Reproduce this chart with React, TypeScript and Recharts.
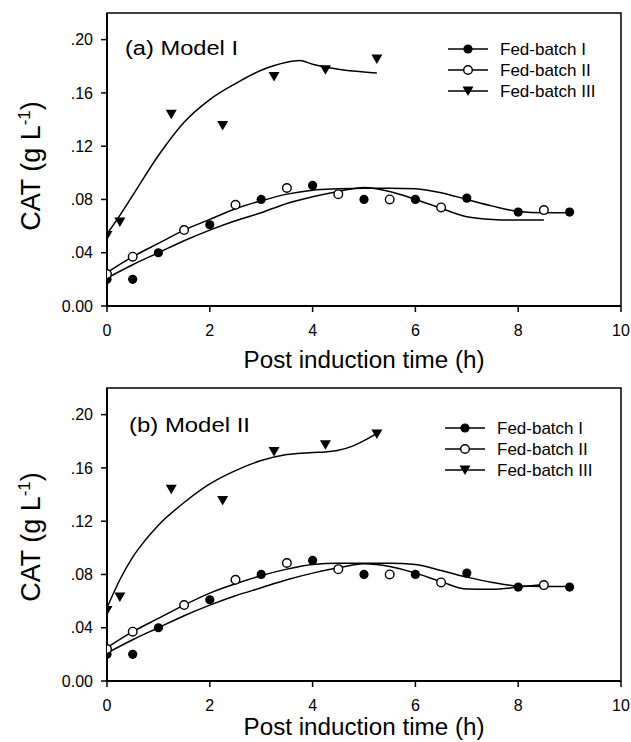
import React from "react";
import { ComposedChart, Line, Scatter, XAxis, YAxis, Legend, Customized, ReferenceArea } from "recharts";

const FONT = '"Liberation Sans", Arial, Helvetica, sans-serif';

// ---- observed data (same in both panels) ----
const obsTimeI = [0, 0.5, 1, 2, 3, 4, 5, 6, 7, 8, 9];
const obsCatI = [0.02, 0.02, 0.04, 0.061, 0.08, 0.0905, 0.08, 0.08, 0.081, 0.0705, 0.0705];
const obsTimeII = [0, 0.5, 1.5, 2.5, 3.5, 4.5, 5.5, 6.5, 8.5];
const obsCatII = [0.024, 0.037, 0.057, 0.076, 0.0886, 0.084, 0.08, 0.074, 0.072];
const obsTimeIII = [0, 0.25, 1.25, 2.25, 3.25, 4.25, 5.25];
const obsCatIII = [0.053, 0.063, 0.144, 0.1355, 0.1724, 0.1774, 0.1855];

// ---- model curves ----
const fitTimeI = [0, 0.5, 1, 1.5, 2, 2.5, 3, 3.5, 4, 4.5, 5, 5.5, 6, 6.5, 7, 7.5, 8, 8.5, 9];
const fitTimeII = [0, 0.5, 1, 1.5, 2, 2.5, 3, 3.5, 4, 4.5, 5, 5.5, 6, 6.5, 7, 7.5, 8, 8.5];
const m1TimeIII = [0, 0.25, 0.5, 1, 1.5, 2, 2.5, 3, 3.5, 3.75, 4, 4.5, 5, 5.25];
const m2TimeIII = [0, 0.25, 0.5, 0.75, 1, 1.5, 2, 2.5, 3, 3.5, 4, 4.25, 4.5, 4.75, 5, 5.25];

const m1FitI = [0.025, 0.037, 0.047, 0.057, 0.065, 0.073, 0.079, 0.084, 0.087, 0.088, 0.0885, 0.0885, 0.088, 0.085, 0.08, 0.075, 0.071, 0.07, 0.07];
const m1FitII = [0.021, 0.031, 0.04, 0.049, 0.057, 0.064, 0.07, 0.077, 0.082, 0.086, 0.089, 0.086, 0.08, 0.0734, 0.067, 0.065, 0.0645, 0.0645];
const m1FitIII = [0.054, 0.068, 0.083, 0.113, 0.138, 0.155, 0.167, 0.177, 0.183, 0.1843, 0.1815, 0.1778, 0.1757, 0.175];

const m2FitI = [0.025, 0.037, 0.047, 0.057, 0.066, 0.073, 0.079, 0.084, 0.0875, 0.0885, 0.0885, 0.0885, 0.0875, 0.083, 0.078, 0.074, 0.0713, 0.071, 0.071];
const m2FitII = [0.021, 0.031, 0.04, 0.049, 0.057, 0.064, 0.07, 0.076, 0.081, 0.085, 0.088, 0.086, 0.081, 0.0746, 0.069, 0.0688, 0.0705, 0.0725];
const m2FitIII = [0.055, 0.076, 0.093, 0.106, 0.117, 0.134, 0.148, 0.158, 0.1655, 0.17, 0.1715, 0.172, 0.1732, 0.176, 0.1805, 0.186];

const xTicks = [0, 2, 4, 6, 8, 10];
const yTicks = [0, 0.04, 0.08, 0.12, 0.16, 0.2];
const xDomain = [0, 10];
const yDomain = [0, 0.22];
const seriesNames = ["Fed-batch I", "Fed-batch II", "Fed-batch III"];

const toPts = (xs: number[], ys: number[]) => xs.map((x, i) => ({ x, y: ys[i] }));
const fmtY = (v: number) => (v === 0 ? "0.00" : v.toFixed(2).replace(/^0/, ""));

const FilledDot = (p: any) => <circle cx={p.cx} cy={p.cy} r={4.6} fill="#000" />;
const OpenDot = (p: any) => (
  <circle cx={p.cx} cy={p.cy} r={4.3} fill="#fff" stroke="#000" strokeWidth={1.4} />
);
const Tri = (p: any) => (
  <path
    d={`M${p.cx - 5.5},${p.cy - 4.5}L${p.cx + 5.5},${p.cy - 4.5}L${p.cx},${p.cy + 5}Z`}
    fill="#000"
  />
);
const shapes = [FilledDot, OpenDot, Tri];

const LegendBox = () => (
  <svg width={200} height={70} style={{ display: "block", overflow: "visible" }}>
    {seriesNames.map((name, i) => {
      const y = 8 + i * 21;
      const S = shapes[i];
      return (
        <g key={name}>
          <line x1={0} x2={40} y1={y} y2={y} stroke="#000" strokeWidth={1.5} />
          <S cx={20} cy={y} />
          <text x={52} y={y + 6} fontSize={17} fontFamily={FONT} fill="#000">
            {name}
          </text>
        </g>
      );
    })}
  </svg>
);

const PanelText = (props: any) => {
  const { label, lx, ly, lw, xTitleY } = props;
  return (
    <g fontFamily={FONT} fill="#000">
      <text x={lx} y={ly} fontSize={20} textLength={lw} lengthAdjust="spacingAndGlyphs" fill="#000">
        {label}
      </text>
      <text
        x={364}
        y={xTitleY}
        fontSize={23}
        textAnchor="middle"
        textLength={241}
        lengthAdjust="spacingAndGlyphs"
        fill="#000"
      >
        Post induction time (h)
      </text>
      <text
        transform="rotate(-90 40 166)"
        x={40}
        y={166}
        fontSize={27}
        textAnchor="middle"
        fill="#000"
      >
        CAT (g L
        <tspan dy={-10} fontSize={17}>
          -1
        </tspan>
        <tspan dy={10}>)</tspan>
      </text>
    </g>
  );
};

type PanelProps = {
  fitI: number[];
  fitII: number[];
  fitIII: number[];
  timeIII: number[];
  label: string;
  lx: number;
  ly: number;
  lw: number;
  xTitleY: number;
  top: number;
  height: number;
  xAxisH: number;
  legendLeft: number;
  legendTop: number;
};

const Panel = (p: PanelProps) => {
  const obs = [toPts(obsTimeI, obsCatI), toPts(obsTimeII, obsCatII), toPts(obsTimeIII, obsCatIII)];
  const fits = [toPts(fitTimeI, p.fitI), toPts(fitTimeII, p.fitII), toPts(p.timeIII, p.fitIII)];
  return (
    <ComposedChart
      width={631}
      height={p.height}
      margin={{ top: p.top, right: 10, left: 0, bottom: 0 }}
      style={{ fontFamily: FONT }}
    >
      <XAxis
        dataKey="x"
        type="number"
        domain={xDomain}
        ticks={xTicks}
        allowDataOverflow
        height={p.xAxisH}
        tickSize={6}
        tickMargin={13}
        tick={{ fontSize: 16, fill: "#000", fontFamily: FONT }}
        axisLine={{ stroke: "#000", strokeWidth: 2 }}
        tickLine={{ stroke: "#000", strokeWidth: 1.5 }}
      />
      <YAxis
        dataKey="y"
        type="number"
        domain={yDomain}
        ticks={yTicks}
        allowDataOverflow
        width={107}
        tickSize={6}
        tickMargin={8}
        tickFormatter={fmtY}
        tick={{ fontSize: 16, fill: "#000", fontFamily: FONT }}
        axisLine={{ stroke: "#000", strokeWidth: 2 }}
        tickLine={{ stroke: "#000", strokeWidth: 1.5 }}
      />
      <ReferenceArea
        x1={xDomain[0]}
        x2={xDomain[1]}
        y1={yDomain[0]}
        y2={yDomain[1]}
        fill="none"
        fillOpacity={0}
        stroke="#000"
        strokeWidth={1.5}
        ifOverflow="visible"
      />
      {fits.map((d, i) => (
        <Line
          key={"f" + i}
          data={d}
          dataKey="y"
          type="monotone"
          dot={false}
          activeDot={false}
          stroke="#000"
          strokeWidth={1.5}
          isAnimationActive={false}
          legendType="none"
        />
      ))}
      {obs.map((d, i) => (
        <Scatter
          key={"s" + i}
          name={seriesNames[i]}
          data={d}
          dataKey="y"
          shape={shapes[i]}
          isAnimationActive={false}
        />
      ))}
      <Legend
        layout="horizontal"
        verticalAlign="middle"
        align="center"
        content={<LegendBox />}
        wrapperStyle={{ position: "absolute", left: p.legendLeft, top: p.legendTop, width: 200, height: 70 }}
      />
      <Customized
        component={<PanelText label={p.label} lx={p.lx} ly={p.ly} lw={p.lw} xTitleY={p.xTitleY} />}
      />
    </ComposedChart>
  );
};

export default function App() {
  return (
    <div style={{ position: "absolute", left: 0, top: 0, width: 631, height: 742, background: "#fff" }}>
      <div style={{ position: "absolute", left: 0, top: 0 }}>
        <Panel
          fitI={m1FitI}
          fitII={m1FitII}
          fitIII={m1FitIII}
          timeIII={m1TimeIII}
          label="(a) Model I"
          lx={125}
          ly={55}
          lw={113}
          xTitleY={368}
          top={13}
          height={380}
          xAxisH={74}
          legendLeft={448}
          legendTop={41}
        />
      </div>
      <div style={{ position: "absolute", left: 0, top: 371 }}>
        <Panel
          fitI={m2FitI}
          fitII={m2FitII}
          fitIII={m2FitIII}
          timeIII={m2TimeIII}
          label="(b) Model II"
          lx={129}
          ly={61}
          lw={121}
          xTitleY={364}
          top={17}
          height={371}
          xAxisH={61}
          legendLeft={445}
          legendTop={49}
        />
      </div>
    </div>
  );
}
